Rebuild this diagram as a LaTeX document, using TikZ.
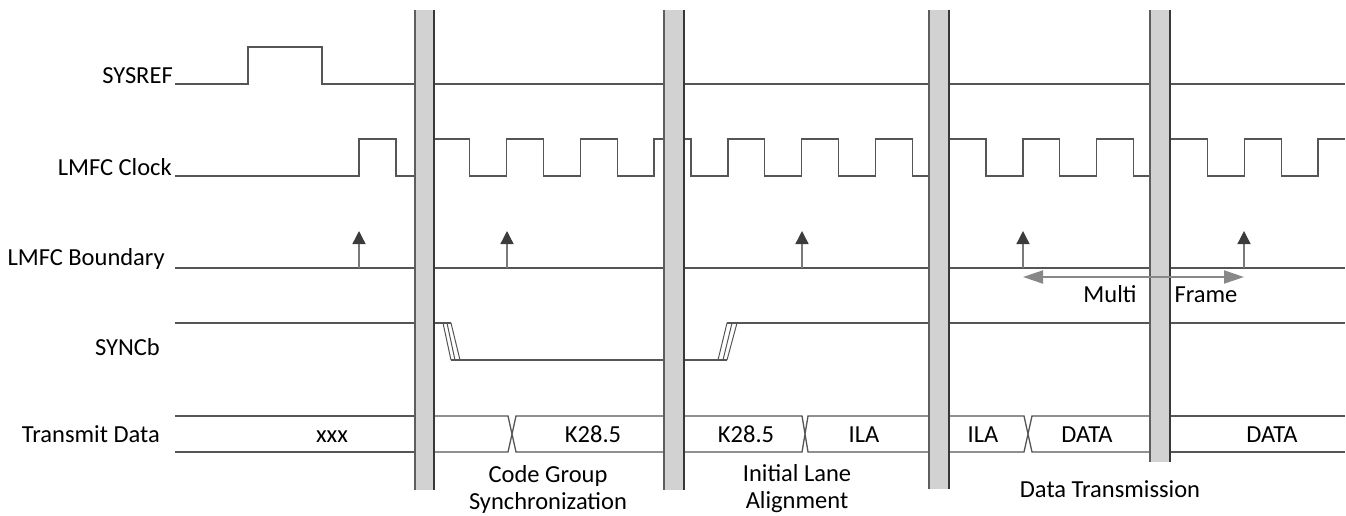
\documentclass[tikz,border=0pt]{standalone}
\usepackage{fontspec}
\setmainfont{Carlito}
\usetikzlibrary{arrows.meta}
\definecolor{sig}{HTML}{555555}
\definecolor{barfill}{HTML}{D2D2D2}
\definecolor{barl}{HTML}{5E5E5E}
\definecolor{barr}{HTML}{383838}
\definecolor{tipc}{HTML}{3C3C3C}
\definecolor{shaft}{HTML}{7A7A7A}
\definecolor{mfc}{HTML}{888888}
\tikzset{
  wave/.style={draw=sig, line width=1.3pt},
  siglabel/.style={anchor=base east, inner sep=0pt},
  buslabel/.style={anchor=base, inner sep=0pt},
  bdry/.style={draw=shaft, line width=1.4pt, -{Triangle[width=13pt,length=13pt,color=tipc]}},
  mfarrow/.style={draw=mfc, line width=2pt, {Triangle[width=13pt,length=20pt]}-{Triangle[width=13pt,length=20pt]}},
}
\newcommand{\phasebar}[4]{%
  \fill[barfill] (#1,#3) rectangle (#2,#4);
  \draw[barl, line width=2pt] (#1,#3) -- (#1,#4);
  \draw[barr, line width=2pt] (#2,#3) -- (#2,#4);
}
\begin{document}
\begin{tikzpicture}[x=1pt,y=-1pt,font=\fontsize{24.5}{28}\selectfont]
\useasboundingbox (0,0) rectangle (1346,515);

% signal labels
\node[siglabel] (lsys) at (173,83) {SYSREF};
\node[siglabel] (lclk) at (172,175) {LMFC Clock};
\node[siglabel] (lbd) at (165,265) {LMFC Boundary};
\node[siglabel] (lsync) at (160,355) {SYNCb};
\node[siglabel] (ltx) at (160,442) {Transmit Data};

% SYSREF
\draw[wave] (175,84) -- (248,84) -- (248,47) -- (322,47) -- (322,84) -- (1345,84);

% LMFC clock
\draw[wave] (175,176) foreach \k in {0,...,12} {
  -- ({359+73.77*\k},176) -- ({359+73.77*\k},139) -- ({395.9+73.77*\k},139) -- ({395.9+73.77*\k},176) }
  -- (1318,176) -- (1318,139) -- (1345,139);

% LMFC boundary
\draw[wave] (175,268) -- (1345,268);
\foreach \x/\n in {359/b1,507/b2,802/b3,1023/b4,1244/b5} {
  \coordinate (\n s) at (\x,268);
  \coordinate (\n e) at (\x,231);
  \draw[bdry] (\n s) -- (\n e);
}

% SYNCb
\draw[wave] (175,323) -- (415,323);
\draw[wave] (435,323) -- (451,323);
\draw[sig, line width=1pt] (443,323) -- (451,360) (447,323) -- (455,360) (451,323) -- (460,360);
\draw[wave] (451,360) -- (664,360);
\draw[wave] (684,360) -- (727,360);
\draw[sig, line width=1pt] (718,360) -- (727,323) (723,360) -- (732,323) (727,360) -- (737,323);
\draw[wave] (727,323) -- (1345,323);

% Transmit data bus
\draw[wave] (175,416) -- (415,416) (175,452) -- (415,452);
\draw[wave] (435,416) -- (508,416) -- (516,452) -- (664,452)
            (435,452) -- (508,452) -- (516,416) -- (664,416);
\draw[wave] (684,416) -- (802,416) -- (808,452) -- (929,452)
            (684,452) -- (802,452) -- (808,416) -- (929,416);
\draw[wave] (949,416) -- (1024,416) -- (1032,452) -- (1150,452)
            (949,452) -- (1024,452) -- (1032,416) -- (1150,416);
\draw[wave] (1170,416) -- (1345,416) (1170,452) -- (1345,452);

\node[buslabel] (d1) at (332,442) {xxx};
\node[buslabel] (d2) at (593,442) {K28.5};
\node[buslabel] (d3) at (746,442) {K28.5};
\node[buslabel] (d4) at (864,442) {ILA};
\node[buslabel] (d5) at (983,442) {ILA};
\node[buslabel] (d6) at (1087,442) {DATA};
\node[buslabel] (d7) at (1272,442) {DATA};

% phase bars
\phasebar{415}{434}{10}{490}
\phasebar{664}{684}{10}{490}
\phasebar{929}{949}{10}{489}
\phasebar{1150}{1170}{10}{462}

% multi frame
\coordinate (mf1) at (1023,277);
\coordinate (mf2) at (1244,277);
\draw[mfarrow] (mf1) -- (mf2);
\node[buslabel] (multi) at (1110,302) {Multi};
\node[buslabel] (frame) at (1206,302) {Frame};

% phase labels
\node[buslabel] (p1a) at (548,482) {Code Group};
\node[buslabel] (p1b) at (548,509) {Synchronization};
\node[buslabel] (p2a) at (797,481) {Initial Lane};
\node[buslabel] (p2b) at (797,508) {Alignment};
\node[buslabel] (p3) at (1110,497) {Data Transmission};
\end{tikzpicture}
\end{document}
